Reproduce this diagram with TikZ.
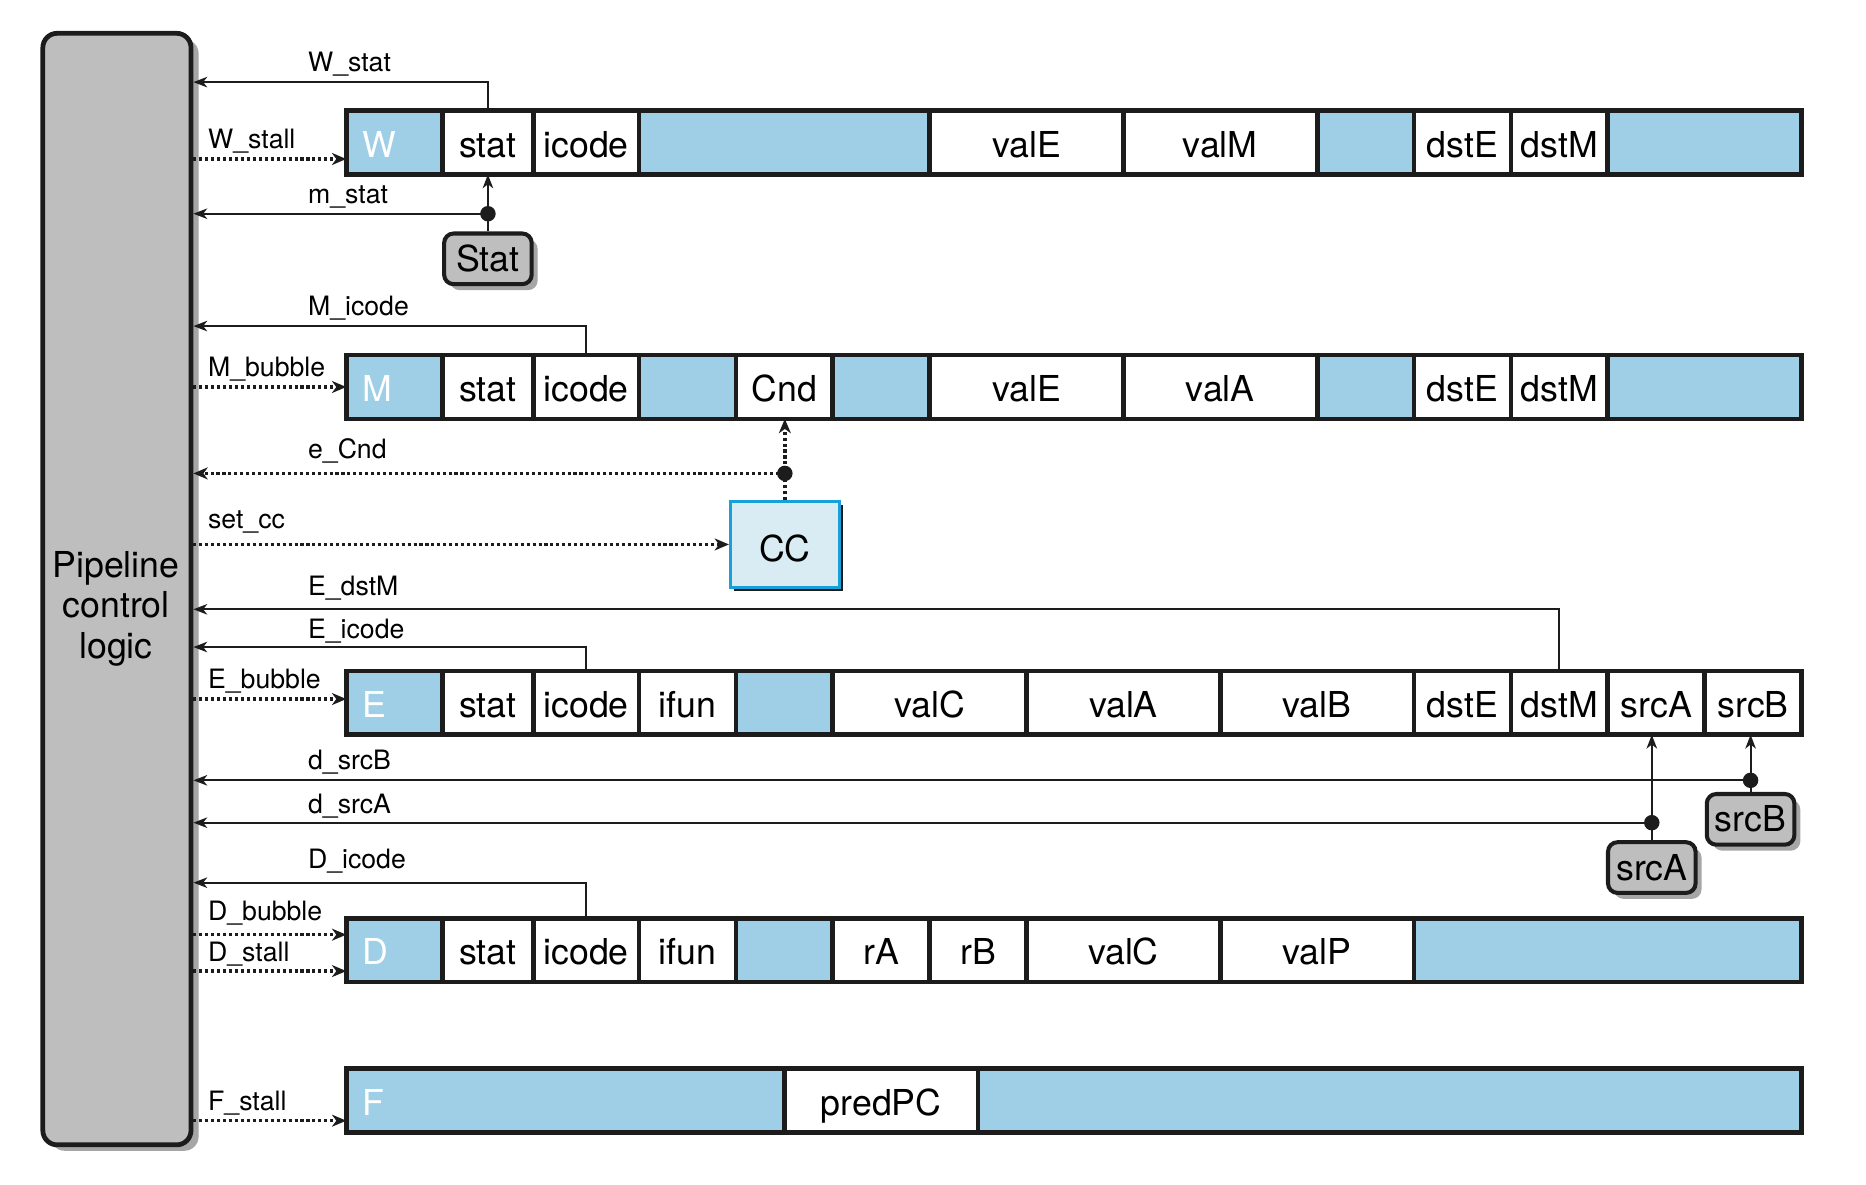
\documentclass[tikz,border=0pt]{standalone}
\usepackage{fontspec}
\setmainfont{TeX Gyre Heros}
\usetikzlibrary{arrows.meta,shadows}

\definecolor{regblue}{HTML}{9ECFE6}
\definecolor{ctlgray}{HTML}{BEBEBE}
\definecolor{shadegray}{HTML}{A6A6A6}
\definecolor{ccfill}{HTML}{D9ECF4}
\definecolor{ccline}{HTML}{1AA0D8}
\definecolor{ink}{HTML}{1C1C1C}

\tikzset{
    cell/.style={draw=ink, line width=2pt, fill=white, minimum width=#1,
        minimum height=26.8pt, inner sep=0pt, outer sep=0pt, anchor=west,
        font=\fontsize{15}{17}\selectfont, text height=12.2pt, text depth=0pt},
    cell/.default=40.7pt,
    blank/.style={cell=#1, fill=regblue},
    blank/.default=40.7pt,
    stage/.style={cell=0pt, fill=regblue, text=white, inner xsep=7pt,
        text width=#1, align=left},
    sig/.style={draw=ink, line width=0.9pt,
        -{Stealth[length=5.8pt,width=4.4pt,inset=1.7pt]}},
    ctrl/.style={draw=ink, line width=1.4pt, dash pattern=on 1.3pt off 1.2pt,
        -{Stealth[length=6pt,width=5pt,inset=1.8pt]}},
    dot/.style={circle, fill=ink, inner sep=0pt, minimum size=6.5pt},
    siglbl/.style={anchor=base west, inner sep=0pt,
        font=\fontsize{11.2}{13}\selectfont},
    ctlbox/.style={draw=ink, line width=2pt, fill=ctlgray, rounded corners=6pt,
        minimum width=62.25pt, minimum height=467pt, inner sep=0pt,
        drop shadow={shadow xshift=3.2pt, shadow yshift=-2.5pt, fill=shadegray, opacity=1}},
    ctltext/.style={align=center, inner sep=0pt, font=\fontsize{15}{17}\selectfont},
    greybox/.style={draw=ink, line width=1.7pt, fill=ctlgray, rounded corners=4pt,
        minimum width=36.8pt, minimum height=21.3pt, inner sep=0pt,
        font=\fontsize{15}{17}\selectfont, text height=10.5pt, text depth=0pt,
        drop shadow={shadow xshift=2.5pt, shadow yshift=-2.5pt, fill=shadegray, opacity=1}},
    ccbox/.style={draw=ccline, line width=1.2pt, fill=ccfill,
        minimum width=45.75pt, minimum height=36pt, inner sep=0pt,
        font=\fontsize{15}{17}\selectfont, text height=14.5pt, text depth=0pt,
        drop shadow={shadow xshift=1.6pt, shadow yshift=-1.6pt, fill=ink, opacity=1}},
}

\begin{document}
\begin{tikzpicture}[x=0.5pt, y=-0.5pt]
    \useasboundingbox (0,0) rectangle (1568,995);

    % pipeline control logic
    \node[ctlbox] (ctl) at (98.25,495) {};
    \node[ctltext] (ctl-text) at (97.5,511.6) {Pipeline\\control\\logic};

    % W register
    \node[stage=26.5pt] (W) at (291,119.8) {W};
    \node[cell=38pt] (W-stat) at (W.east) {stat};
    \node[cell=44.5pt] (W-icode) at (W-stat.east) {icode};
    \node[blank=122.1pt] (W-b1) at (W-icode.east) {};
    \node[cell=81.4pt] (W-valE) at (W-b1.east) {valE};
    \node[cell=81.4pt] (W-valM) at (W-valE.east) {valM};
    \node[blank] (W-b2) at (W-valM.east) {};
    \node[cell] (W-dstE) at (W-b2.east) {dstE};
    \node[cell] (W-dstM) at (W-dstE.east) {dstM};
    \node[blank=81.4pt] (W-b3) at (W-dstM.east) {};

    % M register
    \node[stage=26.5pt] (M) at (291,325.2) {M};
    \node[cell=38pt] (M-stat) at (M.east) {stat};
    \node[cell=44.5pt] (M-icode) at (M-stat.east) {icode};
    \node[blank] (M-b1) at (M-icode.east) {};
    \node[cell] (M-Cnd) at (M-b1.east) {Cnd};
    \node[blank] (M-b2) at (M-Cnd.east) {};
    \node[cell=81.4pt] (M-valE) at (M-b2.east) {valE};
    \node[cell=81.4pt] (M-valA) at (M-valE.east) {valA};
    \node[blank] (M-b3) at (M-valA.east) {};
    \node[cell] (M-dstE) at (M-b3.east) {dstE};
    \node[cell] (M-dstM) at (M-dstE.east) {dstM};
    \node[blank=81.4pt] (M-b4) at (M-dstM.east) {};

    % E register
    \node[stage=26.5pt] (E) at (291,590.6) {E};
    \node[cell=38pt] (E-stat) at (E.east) {stat};
    \node[cell=44.5pt] (E-icode) at (E-stat.east) {icode};
    \node[cell] (E-ifun) at (E-icode.east) {ifun};
    \node[blank] (E-b1) at (E-ifun.east) {};
    \node[cell=81.4pt] (E-valC) at (E-b1.east) {valC};
    \node[cell=81.4pt] (E-valA) at (E-valC.east) {valA};
    \node[cell=81.4pt] (E-valB) at (E-valA.east) {valB};
    \node[cell] (E-dstE) at (E-valB.east) {dstE};
    \node[cell] (E-dstM) at (E-dstE.east) {dstM};
    \node[cell] (E-srcA) at (E-dstM.east) {srcA};
    \node[cell] (E-srcB) at (E-srcA.east) {srcB};

    % D register
    \node[stage=26.5pt] (D) at (291,798.3) {D};
    \node[cell=38pt] (D-stat) at (D.east) {stat};
    \node[cell=44.5pt] (D-icode) at (D-stat.east) {icode};
    \node[cell] (D-ifun) at (D-icode.east) {ifun};
    \node[blank] (D-b1) at (D-ifun.east) {};
    \node[cell] (D-rA) at (D-b1.east) {rA};
    \node[cell] (D-rB) at (D-rA.east) {rB};
    \node[cell=81.4pt] (D-valC) at (D-rB.east) {valC};
    \node[cell=81.4pt] (D-valP) at (D-valC.east) {valP};
    \node[blank=162.8pt] (D-b2) at (D-valP.east) {};

    % F register
    \node[stage=170pt] (F) at (291,924.9) {F};
    \node[cell=81.4pt] (F-predPC) at (F.east) {predPC};
    \node[blank=346pt] (F-b1) at (F-predPC.east) {};

    % status from W
    \node[siglbl] (lbl-W-stat) at (258.5,59.7) {W\_stat};
    \draw[sig] (W-stat.north) |- (ctl.east |- 0,69);

    % stall for W
    \node[siglbl] (lbl-W-stall) at (174.5,125.2) {W\_stall};
    \draw[ctrl] (ctl.east |- 0,133.6) -- (W.west |- 0,133.6);

    % status from memory stage
    \node[greybox] (Stat) at (410,217.5) {Stat};
    \node[dot] (m-stat) at (410,179.6) {};
    \node[siglbl] (lbl-m-stat) at (258.5,171.4) {m\_stat};
    \draw[sig] (Stat.north) -- (W-stat.south);
    \draw[sig] (m-stat.center) -- (ctl.east |- m-stat);

    % icode from M
    \node[siglbl] (lbl-M-icode) at (258.5,264.7) {M\_icode};
    \draw[sig] (M-icode.north) |- (ctl.east |- 0,274);

    % bubble for M
    \node[siglbl] (lbl-M-bubble) at (174.5,316) {M\_bubble};
    \draw[ctrl] (ctl.east |- M) -- (M.west);

    % condition from CC
    \node[ccbox] (CC) at (659.5,457.5) {CC};
    \node[dot] (e-Cnd) at (659.5,397.8) {};
    \node[siglbl] (lbl-e-Cnd) at (258.5,385.2) {e\_Cnd};
    \draw[ctrl] (CC.north) -- (CC.north |- M-Cnd.south);
    \draw[ctrl] (e-Cnd.center) -- (ctl.east |- e-Cnd);

    % set condition codes
    \node[siglbl] (lbl-set-cc) at (174.5,444) {set\_cc};
    \draw[ctrl] (ctl.east |- CC) -- (CC.west);

    % dstM from E
    \node[siglbl] (lbl-E-dstM) at (258.5,500) {E\_dstM};
    \draw[sig] (E-dstM.north) |- (ctl.east |- 0,512);

    % icode from E
    \node[siglbl] (lbl-E-icode) at (258.5,536.4) {E\_icode};
    \draw[sig] (E-icode.north) |- (ctl.east |- 0,543.7);

    % bubble for E
    \node[siglbl] (lbl-E-bubble) at (174.5,578.4) {E\_bubble};
    \draw[ctrl] (ctl.east |- 0,587.4) -- (E.west |- 0,587.4);

    % srcB from decode
    \node[greybox] (srcB) at (1471,688.5) {srcB};
    \node[dot] (d-srcB) at (1471,655.7) {};
    \node[siglbl] (lbl-d-srcB) at (258.5,647) {d\_srcB};
    \draw[sig] (srcB.north) -- (srcB.north |- E-srcB.south);
    \draw[sig] (d-srcB.center) -- (ctl.east |- d-srcB);

    % srcA from decode
    \node[greybox] (srcA) at (1388,729) {srcA};
    \node[dot] (d-srcA) at (1388,691.3) {};
    \node[siglbl] (lbl-d-srcA) at (258.5,683.5) {d\_srcA};
    \draw[sig] (srcA.north) -- (srcA.north |- E-srcA.south);
    \draw[sig] (d-srcA.center) -- (ctl.east |- d-srcA);

    % icode from D
    \node[siglbl] (lbl-D-icode) at (258.5,729.7) {D\_icode};
    \draw[sig] (D-icode.north) |- (ctl.east |- 0,741.7);

    % bubble and stall for D
    \node[siglbl] (lbl-D-bubble) at (174.5,773.7) {D\_bubble};
    \draw[ctrl] (ctl.east |- 0,785.4) -- (D.west |- 0,785.4);
    \node[siglbl] (lbl-D-stall) at (174.5,808) {D\_stall};
    \draw[ctrl] (ctl.east |- 0,816) -- (D.west |- 0,816);

    % stall for F
    \node[siglbl] (lbl-F-stall) at (174.5,933.3) {F\_stall};
    \draw[ctrl] (ctl.east |- 0,941.7) -- (F.west |- 0,941.7);

\end{tikzpicture}
\end{document}
